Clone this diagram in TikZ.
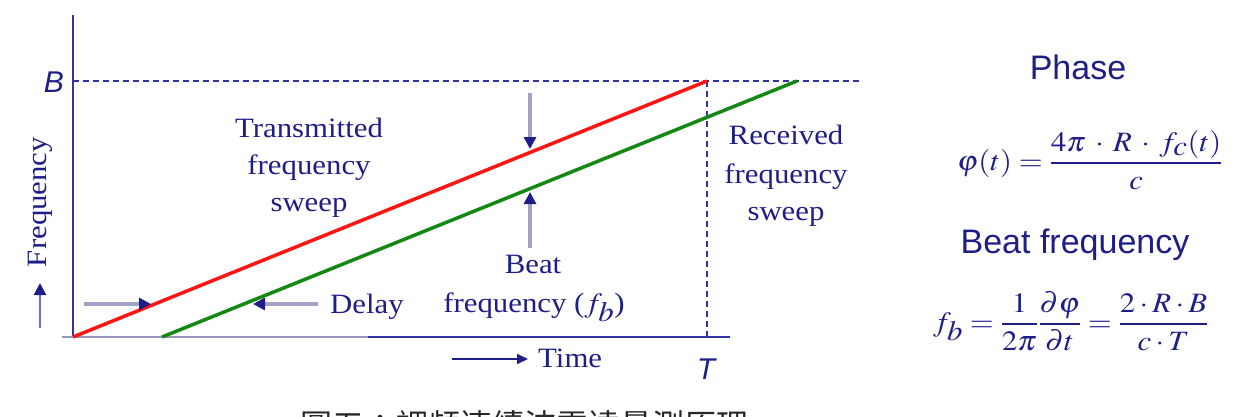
\documentclass[tikz,border=0pt]{standalone}
\usepackage{mathptmx}
\usepackage[no-math]{fontspec}
\setmainfont[FakeStretch=1.1]{Liberation Serif}
\newfontfamily\arialf{Liberation Sans}
\newfontfamily\cjk{Noto Sans CJK TC}
\usetikzlibrary{arrows.meta}
\definecolor{navy}{RGB}{30,30,135}
\definecolor{axisc}{RGB}{50,50,160}
\definecolor{shaft}{RGB}{160,162,200}
\definecolor{lightaxis}{RGB}{150,150,190}
\definecolor{redl}{RGB}{255,20,20}
\definecolor{greenl}{RGB}{20,135,20}
\begin{document}
\begin{tikzpicture}[x=1pt,y=-1pt,
  lbl/.style={text=navy,inner sep=0pt,font=\fontsize{28}{34}\selectfont},
  sanslbl/.style={text=navy,inner sep=0pt,font=\arialf\fontsize{34}{40}\selectfont},
  mathlbl/.style={text=navy,inner sep=0pt,anchor=base west,font=\fontsize{28}{34}\selectfont},
  axisline/.style={draw=axisc,line width=2pt},
  dashline/.style={draw=axisc,line width=1.5pt,dash pattern=on 6pt off 4pt},
  ptr/.style={draw=shaft,line width=4pt,-{Triangle[length=12pt,width=12pt,color=navy]}},
  sweep/.style={line width=3.5pt}
]
\useasboundingbox (0,0) rectangle (1236,417);
% coordinates
\coordinate (ytop) at (73,15);
\coordinate (origin) at (73,337);
\coordinate (xleft) at (62,337);
\coordinate (xmid) at (368,337);
\coordinate (xend) at (730,337);
\coordinate (Bstart) at (73,81);
\coordinate (Bend) at (862,81);
\coordinate (redend) at (707,81);
\coordinate (greenstart) at (162,337);
\coordinate (greenend) at (797,81);
\coordinate (Tbottom) at (707,337);
% axes
\draw[axisline] (ytop) -- (origin);
\draw[draw=lightaxis,line width=2pt] (xleft) -- (xmid);
\draw[axisline] (xmid) -- (xend);
\draw[dashline] (Bstart) -- (Bend);
\draw[dashline] (redend) -- (Tbottom);
% sweeps
\draw[sweep,draw=redl] (origin) -- (redend);
\draw[sweep,draw=greenl] (greenstart) -- (greenend);
% labels
\node[text=navy,inner sep=0pt,font=\arialf\itshape\fontsize{30}{34}\selectfont] (B) at (54,82) {B};
\node[text=navy,inner sep=0pt,font=\arialf\itshape\fontsize{30}{34}\selectfont] (T) at (706,369) {T};
\node[lbl,rotate=90] (freq) at (40,202) {Frequency};
\node[lbl,anchor=base] (tx1) at (309,137) {Transmitted};
\node[lbl,anchor=base] (tx2) at (309,174) {frequency};
\node[lbl,anchor=base] (tx3) at (309,211) {sweep};
\node[lbl,anchor=base] (rx1) at (786,145) {Received};
\node[lbl,anchor=base] (rx2) at (786,183) {frequency};
\node[lbl,anchor=base] (rx3) at (786,220) {sweep};
\node[lbl,anchor=base] (beat1) at (533,273) {Beat};
\node[lbl,anchor=base] (beat2) at (534,312) {frequency (\scalebox{1.1}[1]{$f_{\textstyle b}$})};
\node[lbl,anchor=base west] (delay) at (330,313) {Delay};
\node[lbl,anchor=base west] (time) at (538,367) {Time};
% arrows
\coordinate (uparrowS) at (40,328);
\coordinate (uparrowE) at (40,283);
\draw[ptr,draw=axisc!70,line width=2.5pt] (uparrowS) -- (uparrowE);
\coordinate (d1s) at (84,304);
\coordinate (d1e) at (151,304);
\draw[ptr] (d1s) -- (d1e);
\coordinate (d2s) at (318,304);
\coordinate (d2e) at (253,304);
\draw[ptr] (d2s) -- (d2e);
\coordinate (b1s) at (530,93);
\coordinate (b1e) at (530,149);
\draw[ptr] (b1s) -- (b1e);
\coordinate (b2s) at (530,248);
\coordinate (b2e) at (530,192);
\draw[ptr] (b2s) -- (b2e);
\coordinate (ts) at (452,359);
\draw[draw=navy,line width=2pt,-{Triangle[length=11pt,width=10pt]}] (ts) -- ([xshift=-10pt]ts -| time.west);
% right panel
\node[sanslbl] (phase) at (1078,67) {Phase};
\node[mathlbl] (eq1) at (957,170)
  {\scalebox{1.1}[1]{$\displaystyle \varphi(t)=\frac{4\pi\mathbin{\mkern3mu\cdot\mkern3mu}R\mathbin{\mkern3mu\cdot\mkern3mu}f_{\textstyle c}(t)}{c}$}};
\node[sanslbl] (beatf) at (1075,245) {Beat frequency};
\node[mathlbl] (eq2) at (933,331)
  {\scalebox{1.1}[1]{$\displaystyle f_{\textstyle b}=\frac{1}{2\pi}\frac{\partial\varphi}{\partial t}=\frac{2\cdot R\cdot B}{c\cdot T}$}};
% caption (cut by page edge, as in the reference)
\node[inner sep=0pt,anchor=base west,font=\cjk\fontsize{32}{36}\selectfont,text=black!85] (cap) at (300,437) {圖五：調頻連續波雷達量測原理};
\end{tikzpicture}
\end{document}
